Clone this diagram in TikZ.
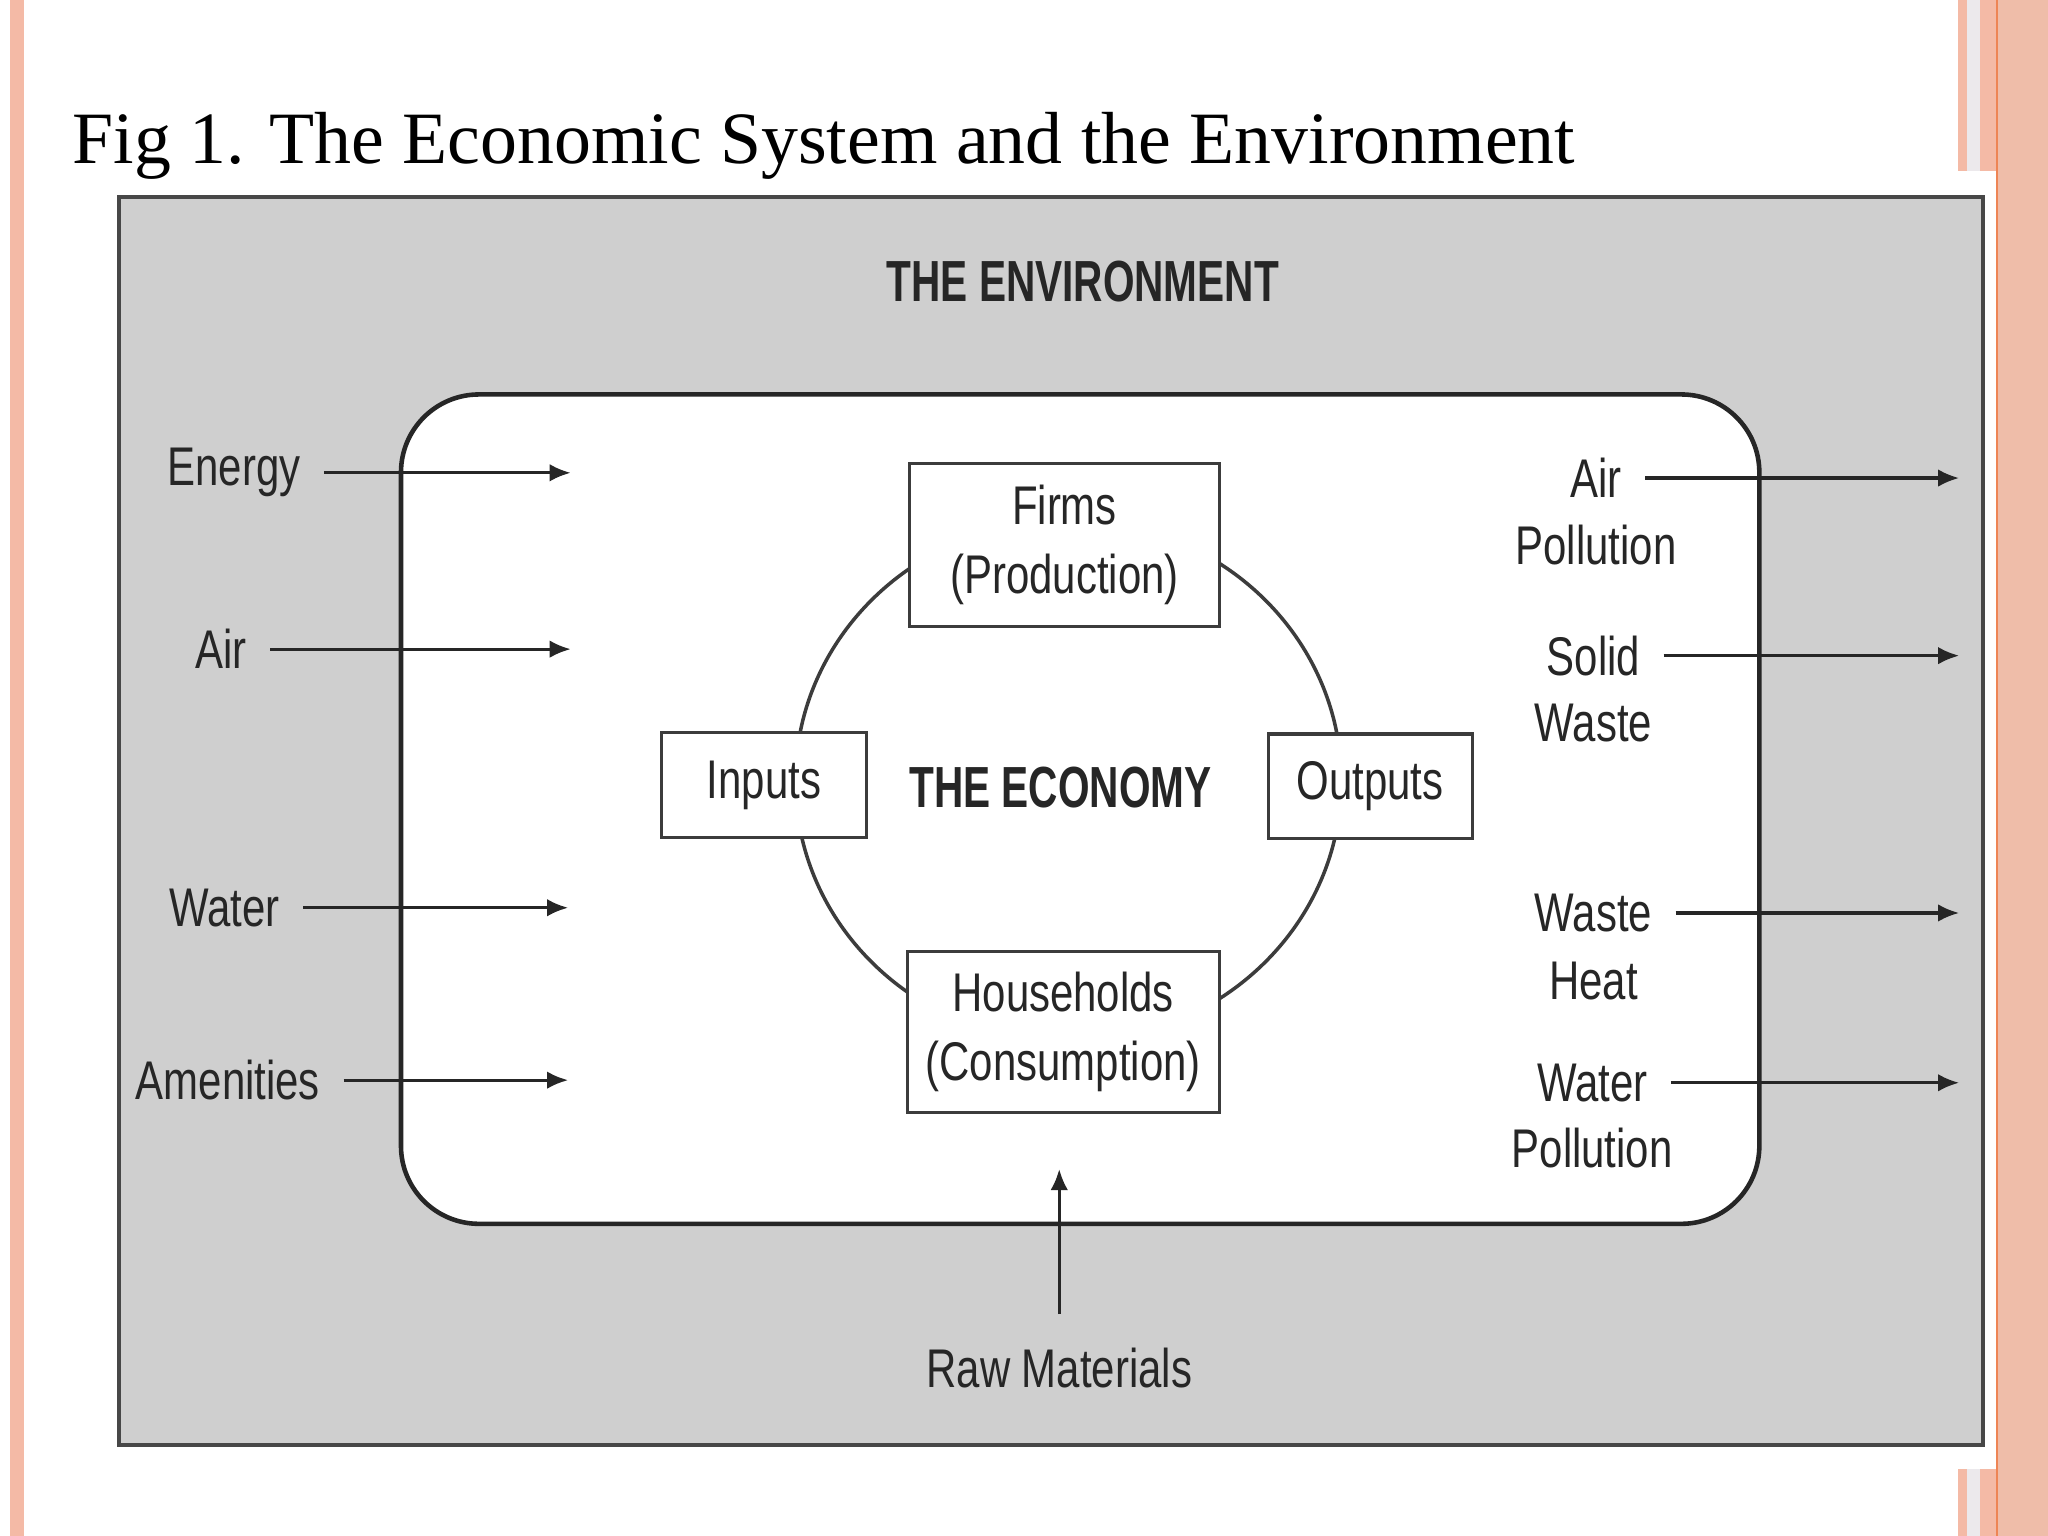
\documentclass[tikz,border=0pt]{standalone}
\usepackage{fontspec}
\setmainfont{Liberation Serif}
\newfontfamily\diagfont[FakeStretch=0.77]{Liberation Sans}
\newfontfamily\headfont[FakeStretch=0.70]{Liberation Sans}
\usetikzlibrary{arrows.meta,positioning}

\definecolor{salmon}{HTML}{F4BAA6}
\definecolor{salmonpale}{HTML}{EFBDA9}
\definecolor{haze}{HTML}{ECE9EC}
\definecolor{rim}{HTML}{EE8555}
\definecolor{panel}{HTML}{CFCFCF}
\definecolor{frame}{HTML}{474747}
\definecolor{ink}{HTML}{262626}
\definecolor{edge}{HTML}{3C3C3C}

\tikzset{
	lbl/.style={font=\diagfont\fontsize{15.5}{19}\selectfont, text=ink, inner xsep=6.5pt},
	head/.style={font=\headfont\bfseries\fontsize{16.5}{20}\selectfont, text=ink},
	sector/.style={draw=edge, line width=0.9pt, fill=white, inner sep=0pt, align=center,
		font=\diagfont\fontsize{15.5}{19.6}\selectfont, text=ink},
	flow/.style={draw=ink, line width=0.9pt, -{Latex[length=6pt,width=5pt]}},
}

\begin{document}
\begin{tikzpicture}[x=0.0130612cm, y=-0.0130612cm]
	\useasboundingbox (0,0) rectangle (1568,1176);
	\fill[salmon] (8,0) rectangle (18,1176);
	\fill[salmon] (1499,0) rectangle (1506,1176);
	\fill[haze] (1506,0) rectangle (1516,1176);
	\fill[salmon] (1516,0) rectangle (1529,1176);
	\fill[white] (20,131) rectangle (1529,1125);
	\fill[salmonpale] (1529,0) rectangle (1568,1176);
	\draw[rim, line width=0.8pt] (1529,0) -- (1529,1176);

	\node[anchor=base west, inner sep=0pt, font=\fontsize{21}{25}\selectfont] (title) at (55,125)
		{Fig 1. The Economic System and the Environment};

	\draw[draw=frame, line width=1.1pt, fill=panel] (91,151) rectangle (1518,1106);
	\node[head, anchor=base] (environment) at (829,231) {THE ENVIRONMENT};

	\draw[draw=ink, line width=1.3pt, fill=white, rounded corners=0.78cm] (307,302) rectangle (1347,937);

	\coordinate (hub) at (818,598);
	\draw[draw=edge, line width=1pt] (hub) ellipse [x radius=209, y radius=200];

	\node[sector, minimum width=3.10cm, minimum height=1.63cm] (firms) at (815,417) {Firms\\(Production)};
	\node[sector, minimum width=2.05cm, minimum height=1.045cm] (inputs) at (585,601) {Inputs};
	\node[sector, minimum width=2.04cm, minimum height=1.045cm] (outputs) at (1049,602) {Outputs};
	\node[sector, minimum width=3.12cm, minimum height=1.61cm] (households) at (814,790) {Households\\(Consumption)};
	\node[head, anchor=base] (economy) at (812,618) {THE ECONOMY};

	\node[lbl, anchor=east] (energy) at (248,362) {Energy};
	\node[lbl, anchor=east] (air) at (207,497) {Air};
	\node[lbl, anchor=east] (water) at (232,695) {Water};
	\node[lbl, anchor=east] (amenities) at (263,827) {Amenities};
	\coordinate (energy-in) at (437,362);
	\coordinate (air-in) at (437,497);
	\coordinate (water-in) at (435,695);
	\coordinate (amenities-in) at (435,827);
	\draw[flow] (energy) -- (energy-in);
	\draw[flow] (air) -- (air-in);
	\draw[flow] (water) -- (water-in);
	\draw[flow] (amenities) -- (amenities-in);

	\node[lbl] (airpol) at (1222,366) {Air};
	\node[lbl, on grid, below=19pt of airpol] (airpol-2) {Pollution};
	\node[lbl] (solid) at (1220,502) {Solid};
	\node[lbl, on grid, below=19.3pt of solid] (solid-2) {Waste};
	\node[lbl] (heat) at (1220,699) {Waste};
	\node[lbl, on grid, below=19.3pt of heat] (heat-2) {Heat};
	\node[lbl] (waterpol) at (1219,829) {Water};
	\node[lbl, on grid, below=18.6pt of waterpol] (waterpol-2) {Pollution};
	\coordinate (airpol-out) at (1500,366);
	\coordinate (solid-out) at (1500,502);
	\coordinate (heat-out) at (1500,699);
	\coordinate (waterpol-out) at (1500,829);
	\draw[flow] (airpol) -- (airpol-out);
	\draw[flow] (solid) -- (solid-out);
	\draw[flow] (heat) -- (heat-out);
	\draw[flow] (waterpol) -- (waterpol-out);

	\node[lbl, anchor=base] (raw) at (811,1062) {Raw Materials};
	\coordinate (raw-in) at (811,895);
	\draw[flow, shorten <=6pt] (raw) -- (raw-in);
\end{tikzpicture}
\end{document}
